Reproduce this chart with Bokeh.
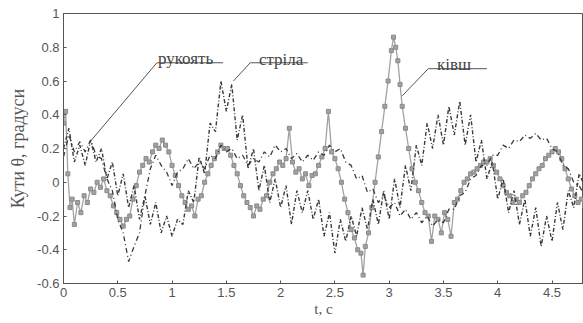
from bokeh.plotting import figure
from bokeh.models import Range1d, FixedTicker, Label
from bokeh.embed import file_html
from bokeh.resources import INLINE

# ---------------- data ----------------
t_strila = [0.00,0.05,0.10,0.15,0.20,0.25,0.30,0.35,0.40,0.45,0.50,0.55,0.60,0.65,0.70,0.75,0.80,0.85,0.90,0.95,
            1.00,1.05,1.10,1.15,1.20,1.25,1.30,1.35,1.40,1.45,1.50,1.55,1.60,1.65,1.70,1.75,1.80,1.85,1.90,1.95,
            2.00,2.05,2.10,2.15,2.20,2.25,2.30,2.35,2.40,2.45,2.50,2.55,2.60,2.65,2.70,2.75,2.80,2.85,2.90,2.95,
            3.00,3.05,3.10,3.15,3.20,3.25,3.30,3.35,3.40,3.45,3.50,3.55,3.60,3.65,3.70,3.75,3.80,3.85,3.90,3.95,
            4.00,4.05,4.10,4.15,4.20,4.25,4.30,4.35,4.40,4.45,4.50,4.55,4.60,4.65,4.70,4.75,4.80]
y_strila = [0.20,0.32,0.12,0.22,0.10,0.25,0.12,0.20,0.02,0.12,-0.08,0.05,-0.15,-0.02,-0.22,-0.08,-0.25,-0.12,-0.30,-0.20,
            -0.32,-0.22,-0.25,-0.05,-0.12,0.15,0.05,0.35,0.30,0.60,0.42,0.58,0.25,0.40,0.08,0.20,-0.05,0.10,-0.12,0.02,
            -0.15,-0.02,-0.25,-0.05,-0.18,-0.05,-0.22,-0.10,-0.32,-0.18,-0.42,-0.22,-0.35,-0.20,-0.32,-0.15,-0.28,-0.10,-0.25,-0.05,
            -0.22,0.02,-0.15,0.10,-0.05,0.22,0.10,0.35,0.20,0.40,0.22,0.45,0.28,0.48,0.22,0.40,0.12,0.25,0.02,0.12,
            -0.10,0.02,-0.18,-0.05,-0.25,-0.10,-0.32,-0.15,-0.38,-0.20,-0.35,-0.12,-0.28,-0.05,-0.15,0.05,-0.02]

t_rukoiat = t_strila
y_rukoiat = [0.15,0.28,0.18,0.24,0.18,0.25,0.16,0.14,0.02,-0.05,-0.22,-0.30,-0.47,-0.38,-0.30,-0.08,0.08,0.16,0.10,0.06,
             -0.02,0.06,0.08,0.14,0.08,0.12,0.08,0.16,0.14,0.22,0.18,0.20,0.14,0.16,0.10,0.14,0.12,0.18,0.15,0.22,
             0.18,0.20,0.14,0.17,0.12,0.16,0.13,0.18,0.16,0.22,0.18,0.20,0.12,0.10,0.02,0.04,-0.06,-0.04,-0.12,-0.08,
             -0.15,-0.12,-0.20,-0.16,-0.22,-0.18,-0.24,-0.20,-0.26,-0.22,-0.24,-0.16,-0.16,-0.08,-0.06,0.02,0.04,0.10,0.10,0.16,
             0.16,0.22,0.20,0.25,0.24,0.28,0.26,0.29,0.25,0.26,0.20,0.18,0.10,0.08,0.00,-0.02,-0.08]

t_kivsh = [0.00,0.02,0.04,0.06,0.08,0.10,0.13,0.16,0.19,0.22,0.25,0.28,0.31,0.34,0.37,0.40,0.43,0.46,0.49,0.52,
           0.55,0.58,0.61,0.64,0.67,0.70,0.73,0.76,0.79,0.82,0.85,0.88,0.91,0.94,0.97,1.00,1.03,1.06,1.09,1.12,
           1.15,1.18,1.21,1.24,1.27,1.30,1.33,1.36,1.39,1.42,1.45,1.48,1.51,1.54,1.57,1.60,1.63,1.66,1.69,1.72,
           1.75,1.78,1.81,1.84,1.87,1.90,1.93,1.96,1.99,2.02,2.05,2.08,2.11,2.14,2.17,2.20,2.23,2.26,2.29,2.32,
           2.35,2.38,2.41,2.44,2.47,2.50,2.53,2.56,2.59,2.62,2.65,2.68,2.71,2.74,2.76,2.78,2.81,2.84,2.87,2.90,
           2.93,2.96,2.99,3.02,3.04,3.06,3.08,3.10,3.12,3.15,3.18,3.21,3.24,3.27,3.30,3.33,3.36,3.39,3.42,3.45,
           3.48,3.51,3.54,3.57,3.60,3.63,3.66,3.69,3.72,3.75,3.78,3.81,3.84,3.87,3.90,3.93,3.96,3.99,4.02,4.05,
           4.08,4.11,4.14,4.17,4.20,4.23,4.26,4.29,4.32,4.35,4.38,4.41,4.44,4.47,4.50,4.53,4.56,4.59,4.62,4.65,
           4.68,4.71,4.74,4.77,4.80]
y_kivsh = [0.35,0.42,0.05,-0.15,-0.10,-0.25,-0.12,-0.18,-0.08,-0.12,-0.04,-0.06,0.00,-0.03,0.02,-0.05,-0.08,-0.14,-0.18,-0.22,
           -0.26,-0.22,-0.20,-0.10,-0.02,0.06,0.10,0.14,0.12,0.18,0.22,0.20,0.25,0.22,0.18,0.10,0.04,-0.02,-0.08,-0.12,
           -0.16,-0.14,-0.20,-0.10,-0.08,0.00,0.05,0.10,0.14,0.18,0.22,0.20,0.20,0.16,0.10,0.05,-0.02,-0.08,-0.12,-0.15,
           -0.20,-0.14,-0.16,-0.10,-0.08,0.00,0.05,0.08,0.12,0.10,0.14,0.32,0.12,0.06,0.08,0.02,0.05,-0.02,0.04,0.05,
           0.10,0.15,0.20,0.42,0.18,0.14,0.08,0.00,-0.10,-0.18,-0.28,-0.33,-0.40,-0.42,-0.55,-0.38,-0.30,-0.15,0.00,0.15,
           0.30,0.45,0.60,0.78,0.86,0.80,0.72,0.58,0.45,0.32,0.20,0.08,0.00,-0.05,-0.12,-0.18,-0.20,-0.35,-0.20,-0.22,
           -0.30,-0.18,-0.22,-0.32,-0.12,-0.10,-0.05,0.00,0.02,0.05,0.06,0.08,0.10,0.12,0.12,0.14,0.10,0.06,0.02,-0.02,
           -0.06,-0.08,-0.12,-0.10,-0.12,-0.08,-0.06,-0.02,0.02,0.05,0.08,0.10,0.14,0.16,0.18,0.20,0.18,0.14,0.08,0.02,
           -0.04,-0.08,-0.12,-0.10,-0.14]

x_ticks = [0, 0.5, 1, 1.5, 2, 2.5, 3, 3.5, 4, 4.5]
x_tick_labels = ["0", "0.5", "1", "1.5", "2", "2.5", "3", "3.5", "4", "4.5"]
y_ticks = [-0.6, -0.4, -0.2, 0, 0.2, 0.4, 0.6, 0.8, 1]
y_tick_labels = ["-0.6", "-0.4", "-0.2", "0", "0.2", "0.4", "0.6", "0.8", "1"]

# annotations: name, text x, text y, underline x0, x1, y, leader end x, y
annotations = [
    ("рукоять", 0.87, 0.735, 0.86, 1.47, 0.708, 0.25, 0.244),
    ("стріла", 1.80, 0.725, 1.72, 2.25, 0.708, 1.565, 0.60),
    ("ківш", 3.44, 0.695, 3.36, 3.90, 0.673, 3.12, 0.512),
]

# ---------------- figure ----------------
p = figure(width=583, height=323, output_backend="svg", toolbar_location=None,
           x_range=Range1d(0, 4.79), y_range=Range1d(-0.6, 1.0),
           min_border_left=63, min_border_right=0, min_border_top=13, min_border_bottom=40)
p.grid.visible = False
p.outline_line_color = "#555555"
p.outline_line_width = 1
p.background_fill_color = "white"
p.border_fill_color = "white"

grey = "#a2a2a2"
dark = "#3a3a3a"

p.line(t_kivsh, y_kivsh, line_color=grey, line_width=1.3)
p.scatter(t_kivsh, y_kivsh, marker="square", size=4, fill_color=grey, line_color="#8a8a8a")
p.line(t_rukoiat, y_rukoiat, line_color=dark, line_width=1.3, line_dash="5 3 1 3")
p.line(t_strila, y_strila, line_color=dark, line_width=1.4, line_dash="4 2 1 2")

for name, tx, ty, ux0, ux1, uy, lx, ly in annotations:
    p.line([lx, ux0, ux1], [ly, uy, uy], line_color="#555555", line_width=1)
    p.add_layout(Label(x=tx, y=ty, text=name, text_font="Liberation Serif",
                       text_font_size="17px", text_color="#444444",
                       text_baseline="alphabetic"))

for ax in (p.xaxis[0], p.yaxis[0]):
    ax.axis_line_color = "#555555"
    ax.major_tick_line_color = "#555555"
    ax.major_tick_in = 3
    ax.major_tick_out = 0
    ax.minor_tick_line_color = None
    ax.major_label_text_font = "Liberation Sans"
    ax.major_label_text_font_size = "13px"
    ax.major_label_text_color = "#555555"

p.xaxis.ticker = FixedTicker(ticks=x_ticks)
p.xaxis.major_label_overrides = dict(zip(x_ticks, x_tick_labels))
p.yaxis.ticker = FixedTicker(ticks=y_ticks)
p.yaxis.major_label_overrides = dict(zip(y_ticks, y_tick_labels))
p.xaxis.major_label_standoff = 4
p.yaxis.major_label_standoff = 4

p.xaxis.axis_label = "t, с"
p.xaxis.axis_label_text_font = "Liberation Serif"
p.xaxis.axis_label_text_font_style = "normal"
p.xaxis.axis_label_text_font_size = "15px"
p.xaxis.axis_label_text_color = "#555555"
p.xaxis.axis_label_standoff = 1

p.yaxis.axis_label = "Кути θ, градуси"
p.yaxis.axis_label_text_font = "Liberation Serif"
p.yaxis.axis_label_text_font_style = "normal"
p.yaxis.axis_label_text_font_size = "18px"
p.yaxis.axis_label_text_color = "#555555"
p.yaxis.axis_label_standoff = 6

open("out.html", "w").write(file_html(p, INLINE))
